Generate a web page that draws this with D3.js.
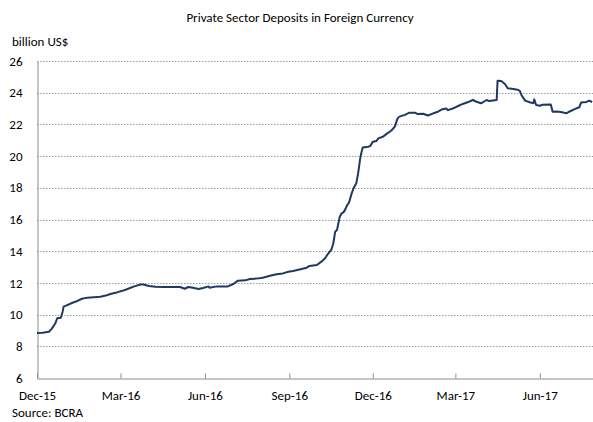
<!DOCTYPE html>
<html>
<head>
<meta charset="utf-8">
<script src="https://cdn.jsdelivr.net/npm/d3@7"></script>
<style>
  html, body { margin: 0; padding: 0; background: #fff; }
  svg { display: block; }
  text { font-family: Carlito, Lato, "Liberation Sans", sans-serif; fill: #000; }
</style>
</head>
<body>
<svg id="chart" width="593" height="422"></svg>
<script>
// Private sector deposits in foreign currency, billion US$
const dates = [
  "2015-12-01","2015-12-07","2015-12-14","2015-12-17","2015-12-21","2015-12-23","2015-12-27","2015-12-29","2015-12-30",
  "2016-01-03","2016-01-08","2016-01-14","2016-01-19","2016-01-25","2016-02-01","2016-02-08","2016-02-14","2016-02-19","2016-02-26",
  "2016-03-03","2016-03-08","2016-03-16","2016-03-23","2016-03-26","2016-04-01","2016-04-08","2016-04-17","2016-04-24",
  "2016-05-05","2016-05-10","2016-05-14","2016-05-19","2016-05-25","2016-05-30","2016-06-05","2016-06-06","2016-06-14","2016-06-26",
  "2016-07-02","2016-07-07","2016-07-15","2016-07-20","2016-07-27","2016-08-03","2016-08-11","2016-08-18","2016-08-25","2016-08-31",
  "2016-09-05","2016-09-12","2016-09-20","2016-09-23","2016-10-01","2016-10-06","2016-10-10","2016-10-13","2016-10-17","2016-10-19",
  "2016-10-21","2016-10-23","2016-10-26","2016-10-28","2016-10-30","2016-11-01","2016-11-03","2016-11-05","2016-11-08","2016-11-10",
  "2016-11-13","2016-11-15","2016-11-17","2016-11-18","2016-11-20","2016-11-26","2016-11-28","2016-12-01","2016-12-05","2016-12-07",
  "2016-12-12","2016-12-16","2016-12-21","2016-12-25","2016-12-28","2016-12-30","2017-01-05","2017-01-10","2017-01-16","2017-01-19",
  "2017-01-25","2017-01-30","2017-02-05","2017-02-10","2017-02-15","2017-02-19","2017-02-21","2017-02-26","2017-03-04","2017-03-09",
  "2017-03-15","2017-03-20","2017-03-24","2017-03-29","2017-04-04","2017-04-07","2017-04-15","2017-04-16","2017-04-20","2017-04-24",
  "2017-04-27","2017-05-03","2017-05-08","2017-05-10","2017-05-12","2017-05-16","2017-05-21","2017-05-25","2017-05-26","2017-05-28",
  "2017-06-01","2017-06-04","2017-06-13","2017-06-15","2017-06-19","2017-06-24","2017-06-30","2017-07-03","2017-07-09","2017-07-14",
  "2017-07-16","2017-07-22","2017-07-25","2017-07-28"
];
const deposits = [
  8.84, 8.86, 8.92, 9.10, 9.45, 9.77, 9.80, 10.20, 10.50,
  10.60, 10.73, 10.86, 11.00, 11.07, 11.10, 11.13, 11.20, 11.30, 11.40,
  11.50, 11.60, 11.78, 11.90, 11.90, 11.80, 11.76, 11.74, 11.74,
  11.74, 11.63, 11.74, 11.70, 11.62, 11.68, 11.78, 11.70, 11.78, 11.78,
  11.93, 12.14, 12.16, 12.25, 12.27, 12.33, 12.45, 12.54, 12.60, 12.70,
  12.75, 12.85, 12.96, 13.07, 13.13, 13.34, 13.55, 13.82, 14.12, 14.50,
  15.23, 15.34, 16.18, 16.39, 16.45, 16.64, 16.90, 17.06, 17.65, 17.97,
  18.28, 18.91, 19.75, 20.07, 20.55, 20.59, 20.63, 20.90, 20.95, 21.12,
  21.22, 21.40, 21.60, 21.86, 22.38, 22.49, 22.60, 22.74, 22.74, 22.65,
  22.67, 22.56, 22.70, 22.80, 22.96, 23.00, 22.90, 23.00, 23.16, 23.29,
  23.41, 23.54, 23.43, 23.33, 23.54, 23.47, 23.54, 24.76, 24.74, 24.55,
  24.28, 24.24, 24.18, 24.13, 23.86, 23.50, 23.40, 23.34, 23.58, 23.22,
  23.18, 23.24, 23.26, 22.80, 22.82, 22.78, 22.70, 22.80, 22.96, 23.08,
  23.38, 23.42, 23.50, 23.40
];
const xTickDates = ["2015-12-01","2016-03-01","2016-06-01","2016-09-01","2016-12-01","2017-03-01","2017-06-01"];
const xTickLabels = ["Dec-15","Mar-16","Jun-16","Sep-16","Dec-16","Mar-17","Jun-17"];
const yTicks = [6, 8, 10, 12, 14, 16, 18, 20, 22, 24, 26];

const parse = d3.utcParse("%Y-%m-%d");
const series = dates.map((d, i) => ({ date: parse(d), value: deposits[i] }));

const W = 593, H = 422;
const margin = { top: 61, right: 0, bottom: 44, left: 37 };
const FONT = "Carlito, Lato, 'Liberation Sans', sans-serif";

const svg = d3.select("#chart");

const x = d3.scaleUtc()
  .domain([parse("2015-12-01"), parse("2017-07-29")])
  .range([margin.left, W - margin.right]);
const y = d3.scaleLinear()
  .domain([6, 26])
  .range([H - margin.bottom, margin.top]);

// title and unit
svg.append("text")
  .attr("x", 300).attr("y", 22)
  .attr("text-anchor", "middle")
  .style("font-size", "13px")
  .text("Private Sector Deposits in Foreign Currency");
svg.append("text")
  .attr("x", 12).attr("y", 46)
  .style("font-size", "13px")
  .text("billion US$");

// dotted horizontal gridlines
svg.append("g")
  .selectAll("line")
  .data(yTicks.filter(t => t > 6))
  .join("line")
  .attr("x1", margin.left).attr("x2", W - margin.right)
  .attr("y1", d => Math.round(y(d)) + 0.5).attr("y2", d => Math.round(y(d)) + 0.5)
  .attr("stroke", "#9a9a9a")
  .attr("stroke-width", 1)
  .attr("stroke-dasharray", "1.5,1.5");

// y axis
const yAxis = svg.append("g")
  .attr("transform", `translate(${margin.left + 0.5},0)`)
  .call(d3.axisLeft(y).tickValues(yTicks).tickSize(0).tickPadding(15).tickFormat(d3.format("d")));
yAxis.select(".domain").attr("stroke", "#8c8c8c");
yAxis.selectAll("text").style("font-size", "13px").attr("fill", "#000").style("font-family", FONT);

// x axis with inward ticks
const xAxis = svg.append("g")
  .attr("transform", `translate(0,${H - margin.bottom + 0.5})`)
  .call(d3.axisBottom(x)
    .tickValues(xTickDates.map(parse))
    .tickSize(0)
    .tickPadding(12)
    .tickFormat((d, i) => xTickLabels[i]));
xAxis.select(".domain").attr("stroke", "#8c8c8c");
xAxis.selectAll(".tick line").attr("y2", -5).attr("stroke", "#8c8c8c");
xAxis.selectAll("text").style("font-size", "13px").attr("fill", "#000").style("font-family", FONT);

// deposit series
const line = d3.line()
  .x(d => x(d.date))
  .y(d => y(d.value));
svg.append("path")
  .datum(series)
  .attr("fill", "none")
  .attr("stroke", "#1f3864")
  .attr("stroke-width", 2)
  .attr("stroke-linejoin", "round")
  .attr("d", line);

// source note
svg.append("text")
  .attr("x", 12).attr("y", 417)
  .style("font-size", "13px")
  .text("Source: BCRA");
</script>
</body>
</html>
